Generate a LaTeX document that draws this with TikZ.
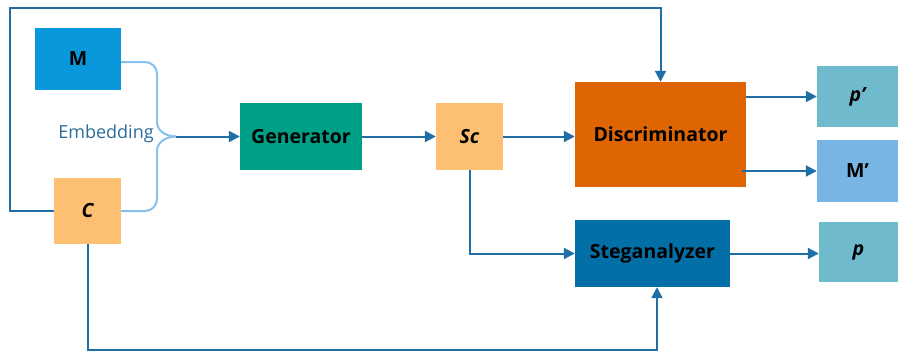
\documentclass[tikz,border=0pt]{standalone}
\usepackage{fontspec}
\setmainfont{Open Sans}
\usetikzlibrary{arrows.meta}
\definecolor{lineblue}{HTML}{1F6EA6}
\definecolor{bracecol}{HTML}{86C0EE}
\definecolor{mblue}{HTML}{0A98DC}
\definecolor{lorange}{HTML}{FDBF72}
\definecolor{teal}{HTML}{00A088}
\definecolor{dorange}{HTML}{DE6502}
\definecolor{ltblue}{HTML}{70BACE}
\definecolor{mpblue}{HTML}{78B4E4}
\definecolor{sblue}{HTML}{0270A6}
\definecolor{txtblue}{HTML}{2C6C9C}
\tikzset{
  box/.style={draw=none, inner sep=0pt, font=\bfseries\fontsize{19.5}{22}\selectfont, text=black},
  conn/.style={draw=lineblue, line width=2pt, -{Triangle[length=11pt,width=11pt]}},
  brace/.style={draw=bracecol, line width=2pt},
}
\begin{document}
\begin{tikzpicture}[x=1pt,y=-1pt]
\useasboundingbox (0,0) rectangle (898,356);
% nodes
\node[box, fill=mblue, minimum width=86pt, minimum height=62pt] (M) at (78,59) {M};
\node[box, fill=lorange, minimum width=67pt, minimum height=66pt] (C) at (87.5,211) {\itshape C};
\node[font=\fontsize{18}{20}\selectfont, text=txtblue, anchor=center] (emb) at (106,134) {Embedding};
\node[box, fill=teal, minimum width=122pt, minimum height=67pt] (G) at (301,136.5) {Generator};
\node[box, fill=lorange, minimum width=67pt, minimum height=67pt] (Sc) at (469.5,136.5) {\itshape Sc};
\node[box, fill=dorange, minimum width=171pt, minimum height=105pt] (D) at (660.5,134.5) {Discriminator};
\node[box, fill=sblue, minimum width=155pt, minimum height=67pt] (S) at (652.5,253.5) {Steganalyzer};
\node[box, fill=ltblue, minimum width=81pt, minimum height=61pt] (pp) at (857.5,96.5) {\itshape p’};
\node[box, fill=mpblue, minimum width=81pt, minimum height=62pt] (Mp) at (857.5,171) {M’};
\node[box, fill=ltblue, minimum width=79pt, minimum height=60pt] (p) at (858.5,252) {\itshape p};
% brace
\coordinate (tip) at (176,136.5);
\draw[brace] (M.east |- 0,62) -- (145,62) to[out=0,in=90] (157,74) -- (157,122) to[out=-90,in=180] (tip);
\draw[brace] (C.east) -- (145,211) to[out=0,in=-90] (157,199) -- (157,151) to[out=90,in=180] (tip);
\draw[conn] (tip) -- (G.west);
% main flow
\draw[conn] (G.east) -- (Sc.west);
\draw[conn] (Sc.east) -- (D.west |- Sc.east);
\draw[conn] (Sc.south) |- (S.west);
\draw[conn] (D.east |- pp.west) -- (pp.west);
\draw[conn] ([xshift=-4pt]D.east |- Mp.west) -- (Mp.west);
\draw[conn] (S.east) -- (p.west |- S.east);
% loops from C
\draw[conn] (C.west) -| (10,8) -- (660.5,8) -- (D.north);
\draw[conn] (C.south) |- ([xshift=4.5pt]S.south |- 0,350) -- ([xshift=4.5pt]S.south);
\end{tikzpicture}
\end{document}
